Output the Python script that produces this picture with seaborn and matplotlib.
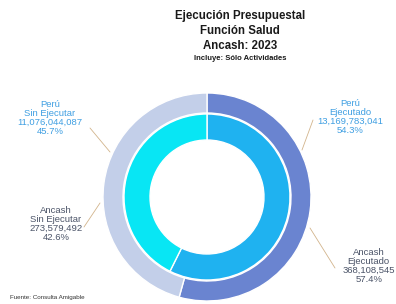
import matplotlib
matplotlib.use("Agg")
import matplotlib.pyplot as plt
import seaborn as sns

# Datos
categorias = ["Ejecutado", "Sin Ejecutar"]
peru_valores = [13169783041, 11076044087]
ancash_valores = [368108545, 273579492]
titulo = ["Ejecución Presupuestal", "Función Salud", "Ancash: 2023"]
subtitulo = "Incluye: Sólo Actividades"
fuente = "Fuente: Consulta Amigable"

sns.set_theme(style="white")
fam = ["Liberation Sans Narrow", "Liberation Sans", "DejaVu Sans"]
plt.rcParams["font.family"] = fam

colores_peru = ["#6a84d0", "#c3cfe9"]
colores_ancash = ["#1fb2f0", "#08e6f4"]

fig = plt.figure(figsize=(3.96, 3.04), dpi=100)
ax = fig.add_axes([0, 0, 1, 1])

cx, cy = 207, 304 - 197

# anillo exterior: Perú
ax.pie(peru_valores, colors=colores_peru, startangle=90, counterclock=False,
       radius=104, center=(cx, cy), frame=True,
       wedgeprops=dict(width=20, edgecolor="white", linewidth=1))
# anillo interior: Ancash
ax.pie(ancash_valores, colors=colores_ancash, startangle=90, counterclock=False,
       radius=83, center=(cx, cy), frame=True,
       wedgeprops=dict(width=26, edgecolor="white", linewidth=1))
ax.set_xlim(0, 396)
ax.set_ylim(0, 304)
ax.set_aspect("equal")
ax.axis("off")


def pct(v, tot):
    return f"{v / tot * 100:.1f}%"


tp = sum(peru_valores)
ta = sum(ancash_valores)
azul = "#3f9fe2"
gris = "#4b5468"

etiquetas = [
    (f"Perú\nSin Ejecutar\n{peru_valores[1]:,}\n{pct(peru_valores[1], tp)}", 50, 304 - 118, azul, "center"),
    (f"Perú\nEjecutado\n{peru_valores[0]:,}\n{pct(peru_valores[0], tp)}", 350, 304 - 117, azul, "center"),
    (f"Ancash\nSin Ejecutar\n{ancash_valores[1]:,}\n{pct(ancash_valores[1], ta)}", 56, 304 - 224, gris, "center"),
    (f"Ancash\nEjecutado\n{ancash_valores[0]:,}\n{pct(ancash_valores[0], ta)}", 395, 304 - 266, gris, "right"),
]
for txt, x, y, c, ha in etiquetas:
    ax.text(x, y, txt, ha=ha, va="center", fontsize=6.8, color=c,
            linespacing=1.0, multialignment="center")

# líneas guía
guias = [((90, 128), (110, 152)), ((313, 120), (302, 150)),
         ((84, 227), (100, 203)), ((310, 228), (335, 268))]
for (x0, y0), (x1, y1) in guias:
    ax.plot([x0, x1], [304 - y0, 304 - y1], color="#d2b48c", lw=0.6)

for i, t in enumerate(titulo):
    ax.text(240, 304 - 16 - i * 15, t, ha="center", va="center",
            fontsize=8.3, fontweight="bold", color="#1a1a1a")
ax.text(240, 304 - 59, subtitulo, ha="center", va="center",
        fontsize=5.5, fontweight="bold", color="#1a1a1a")
ax.text(10, 304 - 298, fuente, ha="left", va="center", fontsize=4.5, color="#333333")

fig.savefig("out.png", dpi=100)
